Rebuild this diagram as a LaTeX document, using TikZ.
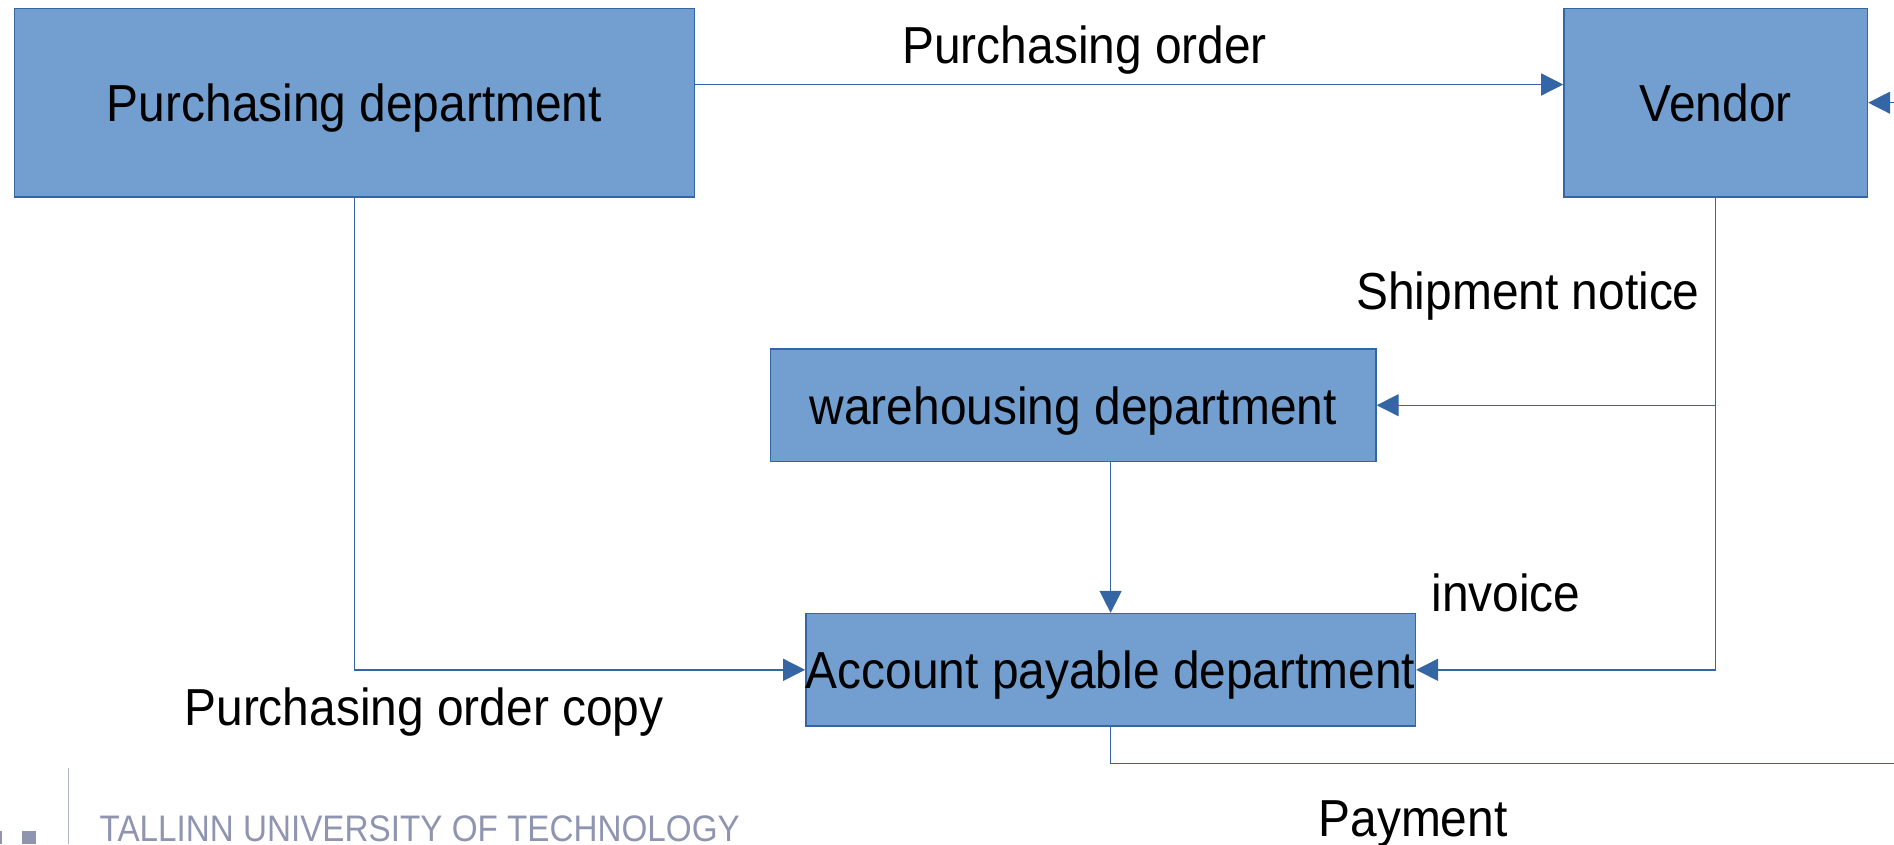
\documentclass[tikz,border=0pt]{standalone}
\usepackage{fontspec}
\setmainfont{Liberation Sans}[FakeStretch=0.92]
\newfontfamily\logofont{Liberation Sans}[FakeStretch=0.9]
\usetikzlibrary{arrows.meta,positioning}
\definecolor{boxfill}{HTML}{729FCF}
\definecolor{boxline}{HTML}{3465A4}
\definecolor{logogray}{RGB}{143,148,176}
\tikzset{
    block/.style = {draw=boxline, fill=boxfill, rectangle, line width=0.4pt,
        inner sep=0pt, text depth=0pt, align=center},
    arrow/.style = {draw=boxline, line width=0.4pt,
        -{Triangle[length=2.2mm,width=2.2mm]}},
    wire/.style = {draw=boxline, line width=0.4pt},
    note/.style = {inner sep=0pt, text depth=0pt}
}

\begin{document}
\begin{tikzpicture}[x=0.01cm, y=-0.01cm, font=\fontsize{14.8}{18}\selectfont]
        \useasboundingbox (0,0) rectangle (1894,844);
        % departments and vendor
        \node [block, minimum width=6.8cm, minimum height=1.884cm] (purch) at (354.5,102.7) {Purchasing department};
        \node [block, minimum width=3.034cm, minimum height=1.884cm] (vendor) at (1715.7,102.7) {Vendor};
        \node [block, minimum width=6.052cm, minimum height=1.124cm] (wareh) at (1073.2,405.2) {warehousing department};
        \node [block, minimum width=6.052cm, minimum height=1.124cm] (accpay) at (1110.6,669.8) {Account payable department};
        \coordinate (rin) at (1894,102.7);
        \coordinate (payend) at (1894,763.4);
        % flows
        \draw [arrow] ([yshift=1.82mm]purch.east) -- ([yshift=1.82mm]vendor.west);
        \draw [arrow] (rin) -- (vendor.east);
        \draw [arrow] (vendor.south) |- (wareh.east);
        \draw [arrow] (vendor.south) |- (accpay.east);
        \draw [arrow] (wareh.south -| accpay.north) -- (accpay.north);
        \draw [arrow] (purch.south) |- (accpay.west);
        \draw [wire] (accpay.south) |- (payend);
        % flow labels
        \node [note] (ordertxt) at (1084.7,44.7) {Purchasing order};
        \node [note] (shiptxt) at (1528,291) {Shipment notice};
        \node [note] (invtxt) at (1506,593) {invoice};
        \node [note] (copytxt) at (424,706.6) {Purchasing order copy};
        \node [note] (paytxt) at (1413,819) {Payment};
        % footer
        \fill [logogray] (0,831) rectangle (2,844);
        \fill [logogray] (21.7,831) rectangle (36.2,844);
        \draw [logogray!70, line width=0.3pt] (68.9,768) -- (68.9,844);
        \node [inner sep=0pt, anchor=base west, text=logogray, font=\logofont\fontsize{10.5}{12}\selectfont] (tut) at (99,841) {TALLINN UNIVERSITY OF TECHNOLOGY};
\end{tikzpicture}
\end{document}
